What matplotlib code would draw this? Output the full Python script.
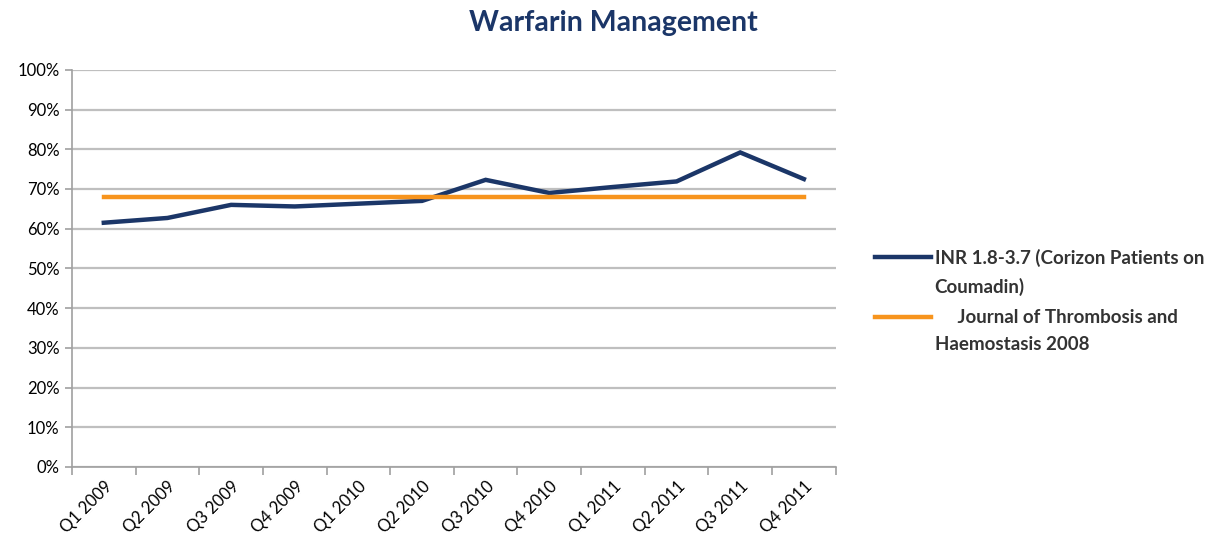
import numpy as np
import matplotlib.pyplot as plt
from matplotlib.lines import Line2D
from matplotlib.ticker import PercentFormatter, FixedLocator

quarters = ['Q1 2009', 'Q2 2009', 'Q3 2009', 'Q4 2009', 'Q1 2010', 'Q2 2010',
            'Q3 2010', 'Q4 2010', 'Q1 2011', 'Q2 2011', 'Q3 2011', 'Q4 2011']
inr = [61.5, 62.7, 66.0, 65.6, 66.3, 67.0, 72.3, 69.0, 70.5, 71.9, 79.2, 72.5]
journal = [68] * len(quarters)

series_names = ['INR 1.8-3.7 (Corizon Patients on\nCoumadin)',
                '     Journal of Thrombosis and\nHaemostasis 2008']
colors = ['#1b3668', '#f7941d']

plt.rcParams['font.family'] = ['Lato', 'DejaVu Sans']

fig = plt.figure(figsize=(12.2, 5.5), dpi=100)
ax = fig.add_axes([0.059, 0.151, 0.626, 0.722])

x = np.arange(len(quarters))
ax.plot(x, inr, color=colors[0], lw=3.2, solid_joinstyle='miter')
ax.plot(x, journal, color=colors[1], lw=3.2)

ax.set_xlim(-0.5, len(quarters) - 0.5)
ax.set_ylim(0, 100)
ax.set_yticks(np.arange(0, 101, 10))
ax.yaxis.set_major_formatter(PercentFormatter(decimals=0))
ax.grid(axis='y', color='#bfbfbf', lw=1.6)
ax.set_axisbelow(True)

ax.set_xticks(x)
ax.set_xticklabels(quarters, rotation=45, ha='right', rotation_mode='anchor', fontsize=12)
ax.tick_params(axis='x', which='major', length=0, pad=8)
ax.xaxis.set_minor_locator(FixedLocator(np.arange(-0.5, len(quarters), 1)))
ax.tick_params(axis='x', which='minor', length=6, color='#a0a0a0', width=1.2)
ax.tick_params(axis='y', length=5, color='#a0a0a0', width=1.2, labelsize=12, pad=4)

for s in ['top', 'right']:
    ax.spines[s].set_visible(False)
for s in ['left', 'bottom']:
    ax.spines[s].set_color('#a0a0a0')
    ax.spines[s].set_linewidth(1.2)

fig.text(0.503, 0.982, 'Warfarin Management', ha='center', va='top',
         fontsize=20.5, fontweight='bold', color='#1b3668')

# legend, line aligned with first text row like the Excel original
for i, (name, c) in enumerate(zip(series_names, colors)):
    ly = 0.533 - i * 0.109
    fig.add_artist(Line2D([0.717, 0.763], [ly, ly], color=c, lw=3.2,
                          transform=fig.transFigure))
    fig.text(0.766, ly + 0.015, name, ha='left', va='top', fontsize=13.5,
             fontweight='bold', color='#333333', linespacing=1.75)

fig.savefig('out.png', dpi=100)
